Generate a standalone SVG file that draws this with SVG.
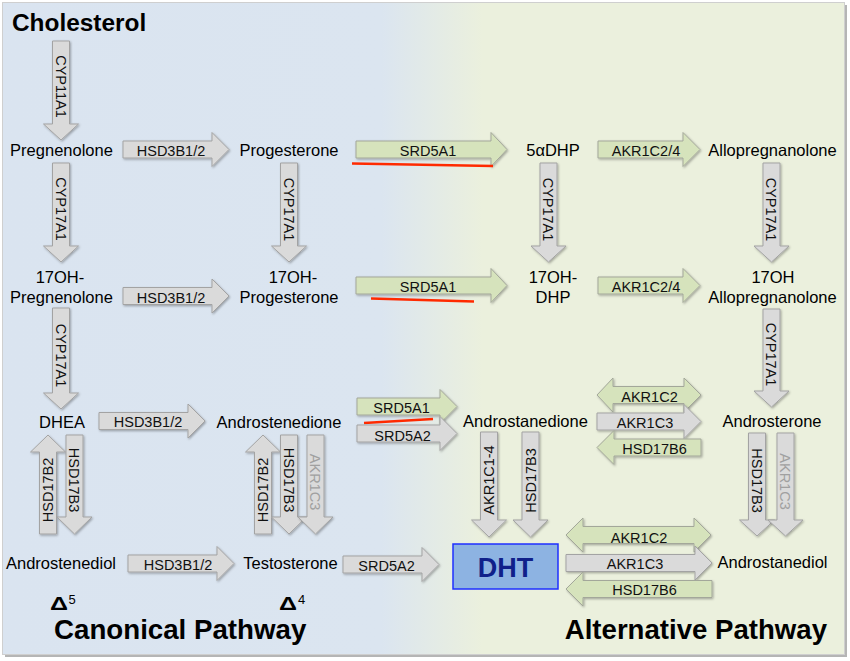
<svg xmlns="http://www.w3.org/2000/svg" width="850" height="661" viewBox="0 0 850 661">
<defs>
<linearGradient id="bg" x1="0" y1="0" x2="1" y2="0">
<stop offset="0" stop-color="#dae4f0"/>
<stop offset="0.45" stop-color="#dbe5f0"/>
<stop offset="0.57" stop-color="#ebf0dd"/>
<stop offset="1" stop-color="#ebf0dd"/>
</linearGradient>
<filter id="sh" x="-10%" y="-10%" width="130%" height="130%">
<feDropShadow dx="1" dy="1.2" stdDeviation="0.8" flood-color="#000" flood-opacity="0.3"/>
</filter>
<style>
.g{fill:#dadada;stroke:#a3a3a3;stroke-width:1;filter:url(#sh)}
.gr{fill:#d6e3bc;stroke:#a3a79a;stroke-width:1;filter:url(#sh)}
.lab{font-family:"Liberation Sans",Arial,sans-serif;font-size:14.5px;fill:#111;text-anchor:middle}
.lab2{font-family:"Liberation Sans",Arial,sans-serif;font-size:14.5px;fill:#a0a0a0;text-anchor:middle}
.n{font-family:"Liberation Sans",Arial,sans-serif;font-size:16.5px;fill:#000;text-anchor:middle}
.b{font-family:"Liberation Sans",Arial,sans-serif;font-weight:bold;fill:#000}
.sup{font-family:"Liberation Sans",Arial,sans-serif;font-size:13px;fill:#000}
.red{stroke:#ff2a00;stroke-width:2.6;fill:none}
</style>
</defs>
<rect x="5" y="5" width="842" height="652" fill="#b5b5b5"/>
<rect x="2.5" y="2.5" width="842" height="652" fill="url(#bg)" stroke="#cfcfcf" stroke-width="1"/>

<g id="connectors">
<g id="a1"><path class="g" d="M123 141 H212 V132.5 L229 149.5 L212 166.5 V158 H123 Z"/><text class="lab" x="171" y="156">HSD3B1/2</text></g>
<g id="a2"><path class="gr" d="M356 141 H491 V132.5 L507 149.5 L491 166.5 V158 H356 Z"/><text class="lab" x="428" y="156">SRD5A1</text><path class="red" d="M352 163.5 L493 166"/></g>
<g id="a3"><path class="gr" d="M598 141 H683 V132.5 L700 149.5 L683 166.5 V158 H598 Z"/><text class="lab" x="646" y="156">AKR1C2/4</text></g>
<g id="a4"><path class="g" d="M123 287.5 H212 V279 L229 296 L212 313 V304.5 H123 Z"/><text class="lab" x="171" y="302.5">HSD3B1/2</text></g>
<g id="a5"><path class="gr" d="M356 277 H491 V268.5 L507 285.5 L491 302.5 V294 H356 Z"/><text class="lab" x="428" y="292">SRD5A1</text><path class="red" d="M371 298.5 L474 301.5"/></g>
<g id="a6"><path class="gr" d="M598 277 H683 V268.5 L700 285.5 L683 302.5 V294 H598 Z"/><text class="lab" x="646" y="292">AKR1C2/4</text></g>
<g id="a7"><path class="g" d="M99 412.5 H188 V404 L205 421 L188 438 V429.5 H99 Z"/><text class="lab" x="148" y="427">HSD3B1/2</text></g>
<g id="a8"><path class="gr" d="M357 398 H440 V389.5 L457 406.5 L440 423.5 V415 H357 Z"/><text class="lab" x="401.5" y="413">SRD5A1</text><path class="red" d="M364 423 L433 419"/></g>
<g id="a9"><path class="g" d="M357 425 H440 V416.5 L457 433.5 L440 450.5 V442 H357 Z"/><text class="lab" x="402.5" y="440.5">SRD5A2</text></g>
<g id="a10"><path class="gr" d="M597 395 L613 378 V386.5 H684 V378 L701 395 L684 412 V403.5 H613 V412 Z"/><text class="lab" x="649.5" y="402">AKR1C2</text></g>
<g id="a11"><path class="g" d="M597 413 H684 V404.5 L701 421.5 L684 438.5 V430 H597 Z"/><text class="lab" x="645" y="427.5">AKR1C3</text></g>
<g id="a12"><path class="gr" d="M701 439 H614 V430.5 L597 447.5 L614 464.5 V456 H701 Z"/><text class="lab" x="654.5" y="453.5">HSD17B6</text></g>
<g id="a13"><path class="g" d="M128 555 H217 V546.5 L234 563.5 L217 580.5 V572 H128 Z"/><text class="lab" x="178" y="569.5">HSD3B1/2</text></g>
<g id="a14"><path class="g" d="M343 556 H422 V547.5 L439 564.5 L422 581.5 V573 H343 Z"/><text class="lab" x="386.5" y="571">SRD5A2</text></g>
<g id="a15"><path class="gr" d="M566 535 L583 518 V526.5 H694 V518 L711 535 L694 552 V543.5 H583 V552 Z"/><text class="lab" x="639" y="543">AKR1C2</text></g>
<g id="a16"><path class="g" d="M566 554.5 H695 V546 L712 563 L695 580 V571.5 H566 Z"/><text class="lab" x="635" y="569">AKR1C3</text></g>
<g id="a17"><path class="gr" d="M712 580.5 H583 V572 L566 589 L583 606 V597.5 H712 Z"/><text class="lab" x="644.5" y="595">HSD17B6</text></g>

<g id="v1"><path class="g" d="M52.5 41 H69.5 V124 H78.5 L61 140 L43.5 124 H52.5 Z"/><text class="lab" transform="translate(55.8,86.5) rotate(90)">CYP11A1</text></g>
<g id="v2"><path class="g" d="M52.5 163 H69.5 V246 H78.5 L61 262 L43.5 246 H52.5 Z"/><text class="lab" transform="translate(55.8,209) rotate(90)">CYP17A1</text></g>
<g id="v3"><path class="g" d="M52.5 308 H69.5 V393 H78.5 L61 409 L43.5 393 H52.5 Z"/><text class="lab" transform="translate(55.8,355.5) rotate(90)">CYP17A1</text></g>
<g id="v4"><path class="g" d="M280.5 163 H297.5 V246 H306.5 L289 262 L271.5 246 H280.5 Z"/><text class="lab" transform="translate(283.8,209.5) rotate(90)">CYP17A1</text></g>
<g id="v5"><path class="g" d="M540 163 H557 V246 H566 L548.5 262 L531 246 H540 Z"/><text class="lab" transform="translate(543.3,209.5) rotate(90)">CYP17A1</text></g>
<g id="v6"><path class="g" d="M763 163 H780 V246 H789 L771.5 262 L754 246 H763 Z"/><text class="lab" transform="translate(766.3,209.5) rotate(90)">CYP17A1</text></g>
<g id="v7"><path class="g" d="M763 309 H780 V391 H789 L771.5 407 L754 391 H763 Z"/><text class="lab" transform="translate(766.3,354.5) rotate(90)">CYP17A1</text></g>
<g id="v8"><path class="g" d="M39.5 534 H56.5 V452 H65.5 L48 435 L30.5 452 H39.5 Z"/><text class="lab" transform="translate(53.2,490) rotate(-90)">HSD17B2</text></g>
<g id="v9"><path class="g" d="M66 435 H83 V517 H92 L74.5 534 L57 517 H66 Z"/><text class="lab" transform="translate(69.3,480) rotate(90)">HSD17B3</text></g>
<g id="v10"><path class="g" d="M254.5 534 H271.5 V452 H280.5 L263 435 L245.5 452 H254.5 Z"/><text class="lab" transform="translate(268.2,490) rotate(-90)">HSD17B2</text></g>
<g id="v11"><path class="g" d="M280.5 435 H297.5 V517 H306.5 L289 534 L271.5 517 H280.5 Z"/><text class="lab" transform="translate(283.8,480) rotate(90)">HSD17B3</text></g>
<g id="v12"><path class="g" d="M307 435 H324 V517 H333 L315.5 534 L298 517 H307 Z"/><text class="lab2" transform="translate(310.3,482) rotate(90)">AKR1C3</text></g>
<g id="v13"><path class="g" d="M480.5 432 H497.5 V520 H506.5 L489 537 L471.5 520 H480.5 Z"/><text class="lab" transform="translate(494.2,480) rotate(-90)">AKR1C1-4</text></g>
<g id="v14"><path class="g" d="M522 432 H539 V520 H548 L530.5 537 L513 520 H522 Z"/><text class="lab" transform="translate(535.7,480.5) rotate(-90)">HSD17B3</text></g>
<g id="v15"><path class="g" d="M748.5 433 H765.5 V520 H774.5 L757 536 L739.5 520 H748.5 Z"/><text class="lab" transform="translate(751.8,480.5) rotate(90)">HSD17B3</text></g>
<g id="v16"><path class="g" d="M777 433 H794 V520 H803 L785.5 536 L768 520 H777 Z"/><text class="lab2" transform="translate(780.3,481.5) rotate(90)">AKR1C3</text></g>
</g>

<g id="cholesterol"><text class="b" x="12" y="31" font-size="24.4">Cholesterol</text></g>
<g id="pregnenolone"><text class="n" x="61.5" y="156">Pregnenolone</text></g>
<g id="progesterone"><text class="n" x="289" y="156">Progesterone</text></g>
<g id="dhp5a"><text class="n" x="553" y="156">5αDHP</text></g>
<g id="allopregnanolone"><text class="n" x="772.5" y="156">Allopregnanolone</text></g>
<g id="oh17preg"><text class="n" x="60" y="283">17OH-</text><text class="n" x="61.5" y="303">Pregnenolone</text></g>
<g id="oh17prog"><text class="n" x="293" y="283">17OH-</text><text class="n" x="289" y="303">Progesterone</text></g>
<g id="oh17dhp"><text class="n" x="553" y="283">17OH-</text><text class="n" x="553" y="303">DHP</text></g>
<g id="oh17allo"><text class="n" x="773" y="283">17OH</text><text class="n" x="772.5" y="303">Allopregnanolone</text></g>
<g id="dhea"><text class="n" x="62" y="428">DHEA</text></g>
<g id="androstenedione"><text class="n" x="279" y="428">Androstenedione</text></g>
<g id="androstanedione"><text class="n" x="525.5" y="427">Androstanedione</text></g>
<g id="androsterone"><text class="n" x="772" y="427">Androsterone</text></g>
<g id="androstenediol"><text class="n" x="61" y="569">Androstenediol</text></g>
<g id="testosterone"><text class="n" x="290.5" y="569">Testosterone</text></g>
<g id="androstanediol"><text class="n" x="772.5" y="568">Androstanediol</text></g>
<g id="dht"><rect x="453" y="544" width="105" height="45" fill="#8db3e2" stroke="#1f2fff" stroke-width="1.5"/><text class="b" x="505.5" y="577" font-size="27" text-anchor="middle" style="fill:#10208a">DHT</text></g>

<g id="labels">
<text class="b" x="50" y="610" font-size="19" textLength="18" lengthAdjust="spacingAndGlyphs">Δ</text><text class="sup" x="68.5" y="603.5">5</text>
<text class="b" x="279" y="610" font-size="19" textLength="18" lengthAdjust="spacingAndGlyphs">Δ</text><text class="sup" x="298" y="603.5">4</text>
<text class="b" x="54" y="639" font-size="27.7">Canonical Pathway</text>
<text class="b" x="827" y="639" font-size="27.6" text-anchor="end">Alternative Pathway</text>
</g>
</svg>
